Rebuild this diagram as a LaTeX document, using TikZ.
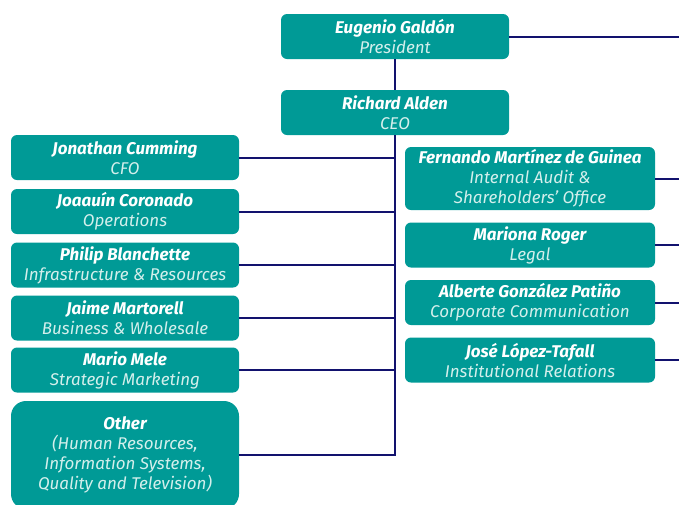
\documentclass[tikz,border=0pt]{standalone}
\usepackage{fontspec}
\setmainfont{Fira Sans}
\definecolor{boxteal}{HTML}{009A96}
\definecolor{submint}{HTML}{D4EFEC}
\definecolor{linenavy}{HTML}{12126E}
\newcommand{\nm}[1]{{\bfseries\itshape\color{white}#1}}
\newcommand{\sbt}[1]{{\itshape\color{submint}#1}}
\tikzset{
  orgbox/.style={fill=boxteal, rounded corners=6pt, minimum width=228pt, minimum height=45pt,
    inner sep=0pt, align=center, font=\fontsize{17}{20}\selectfont},
  rbox/.style={orgbox, minimum width=250pt},
  link/.style={draw=linenavy, line width=2pt}
}
\begin{document}
\begin{tikzpicture}[x=1pt,y=-1pt]
\useasboundingbox (0,0) rectangle (679,504);
\node[orgbox] (pres) at (395,36.5) {\nm{Eugenio Galdón}\\\sbt{President}};
\node[orgbox] (ceo) at (395,112.5) {\nm{Richard Alden}\\\sbt{CEO}};
\node[orgbox] (l1) at (125,157.5) {\nm{Jonathan Cumming}\\\sbt{CFO}};
\node[orgbox] (l2) at (125,211.5) {\nm{Joaauín Coronado}\\\sbt{Operations}};
\node[orgbox] (l3) at (125,265) {\nm{Philip Blanchette}\\\sbt{Infrastructure \& Resources}};
\node[orgbox] (l4) at (125,318) {\nm{Jaime Martorell}\\\sbt{Business \& Wholesale}};
\node[orgbox] (l5) at (125,370) {\nm{Mario Mele}\\\sbt{Strategic Marketing}};
\node[orgbox, rounded corners=15pt, minimum height=108pt] (l6) at (125,455) {\nm{Other}\\\sbt{(Human Resources,}\\\sbt{Information Systems,}\\\sbt{Quality and Television)}};
\node[rbox, minimum height=63pt] (r1) at (530,178.5) {\nm{Fernando Martínez de Guinea}\\\sbt{Internal Audit \&}\\\sbt{Shareholders’ Office}};
\node[rbox] (r2) at (530,245) {\nm{Mariona Roger}\\\sbt{Legal}};
\node[rbox] (r3) at (530,302.5) {\nm{Alberte González Patiño}\\\sbt{Corporate Communication}};
\node[rbox] (r4) at (530,360) {\nm{José López-Tafall}\\\sbt{Institutional Relations}};
\coordinate (e0) at (679,36.5);
\coordinate (e1) at (679,178.5);
\coordinate (e2) at (679,245);
\coordinate (e3) at (679,302.5);
\coordinate (e4) at (679,360);
\coordinate (tb) at (396,455);
\draw[link] (pres.east) -- (e0);
\draw[link] (pres.south) -- (ceo.north);
\draw[link] (ceo.south) -- (ceo.south |- tb) -- (l6.east |- tb);
\foreach \n in {l1,l2,l3,l4,l5}{\draw[link] (\n.east) -- (\n.east -| ceo.south);}
\draw[link] (r1.east) -- (e1);
\draw[link] (r2.east) -- (e2);
\draw[link] (r3.east) -- (e3);
\draw[link] (r4.east) -- (e4);
\end{tikzpicture}
\end{document}
